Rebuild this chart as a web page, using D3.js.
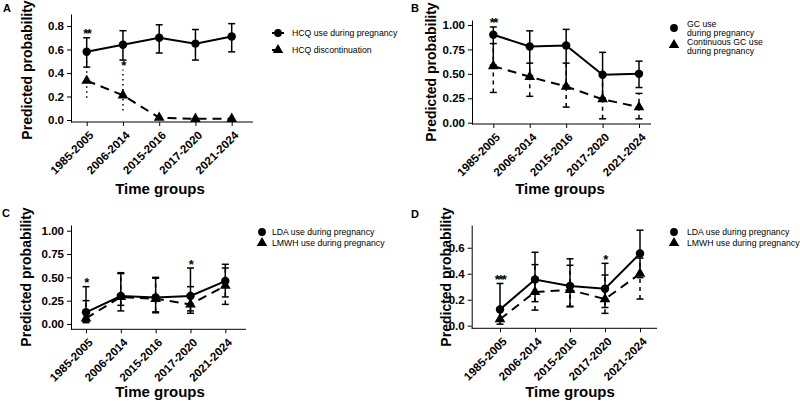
<!DOCTYPE html>
<html>
<head>
<meta charset="utf-8">
<script src="https://cdn.jsdelivr.net/npm/d3@7"></script>
<style>
  body { margin: 0; background: #fff; }
  svg { display: block; font-family: "Liberation Sans", Arial, sans-serif; }
</style>
</head>
<body>
<svg id="chart" width="800" height="402"></svg>
<script>
const timeGroups = ["1985-2005", "2006-2014", "2015-2016", "2017-2020", "2021-2024"];

// A: HCQ
const hcqUse = [0.58, 0.64, 0.70, 0.65, 0.71];
const hcqUseLow = [0.45, 0.51, 0.57, 0.51, 0.58];
const hcqUseHigh = [0.70, 0.76, 0.81, 0.77, 0.82];
const hcqDisc = [0.335, 0.21, 0.02, 0.01, 0.01];
const hcqDiscLow = [0.19, 0.08, 0.01, 0.0, 0.0];
const hcqDiscHigh = [0.50, 0.43, 0.04, 0.02, 0.02];
const sigA = ["**", "*", "", "", ""];
const sigSeriesA = [0, 1, 0, 0, 0];

// B: GC
const gcUse = [0.90, 0.78, 0.79, 0.49, 0.50];
const gcUseLow = [0.59, 0.48, 0.38, 0.25, 0.36];
const gcUseHigh = [0.98, 0.94, 0.955, 0.72, 0.63];
const gcCont = [0.58, 0.47, 0.37, 0.24, 0.16];
const gcContLow = [0.31, 0.27, 0.16, 0.04, 0.04];
const gcContHigh = [0.81, 0.61, 0.61, 0.48, 0.30];
const sigB = ["**", "", "", "", ""];
const sigSeriesB = [0, 0, 0, 0, 0];

// C: LDA / LMWH
const ldaC = [0.125, 0.30, 0.285, 0.30, 0.46];
const ldaCLow = [0.03, 0.14, 0.12, 0.115, 0.29];
const ldaCHigh = [0.40, 0.55, 0.50, 0.60, 0.64];
const lmwhC = [0.06, 0.29, 0.27, 0.21, 0.41];
const lmwhCLow = [0.014, 0.20, 0.13, 0.14, 0.21];
const lmwhCHigh = [0.25, 0.54, 0.49, 0.40, 0.60];
const sigC = ["*", "", "", "*", ""];
const sigSeriesC = [0, 0, 0, 0, 0];

// D: LDA / LMWH
const ldaD = [0.125, 0.355, 0.305, 0.285, 0.555];
const ldaDLow = [0.04, 0.185, 0.15, 0.14, 0.37];
const ldaDHigh = [0.325, 0.565, 0.515, 0.48, 0.735];
const lmwhD = [0.05, 0.26, 0.275, 0.205, 0.40];
const lmwhDLow = [0.012, 0.12, 0.145, 0.095, 0.205];
const lmwhDHigh = [0.13, 0.47, 0.465, 0.39, 0.52];
const sigD = ["***", "", "", "*", ""];
const sigSeriesD = [0, 0, 0, 0, 0];

const svg = d3.select("#chart");

const markerPath = (type, size) =>
  d3.symbol().type(type === "circle" ? d3.symbolCircle : d3.symbolTriangle).size(size)();

const drawPanel = (config) => {
  const {
    label, labelPos, yAxisX, xRange, xEnd, yDomain, yRange, yTicks, yFormat,
    yTitlePos, xTitlePos, series, sig, sigSeries, legend,
  } = config;

  const g = svg.append("g").attr("class", "panel-" + label);

  const xScale = d3.scalePoint().domain(timeGroups).range(xRange);
  const yScale = d3.scaleLinear().domain(yDomain).range(yRange);

  // y axis
  const yAxis = g.append("g")
    .attr("transform", `translate(${yAxisX},0)`)
    .call(d3.axisLeft(yScale).tickValues(yTicks).tickFormat(d3.format(yFormat)).tickSize(4).tickPadding(3).tickSizeOuter(0));
  yAxis.selectAll("text").attr("font-size", 11.5).attr("font-weight", "bold").attr("fill", "#000");
  yAxis.selectAll("line").attr("stroke", "#000");
  yAxis.select(".domain").attr("stroke", "#000");

  // x axis
  const xAxis = g.append("g")
    .attr("transform", `translate(0,${yRange[0]})`)
    .call(d3.axisBottom(xScale).tickSize(4).tickSizeOuter(0));
  xAxis.select(".domain").remove();
  xAxis.append("line").attr("x1", yAxisX).attr("x2", xEnd).attr("stroke", "#000");
  xAxis.selectAll("line").attr("stroke", "#000");
  xAxis.selectAll(".tick text")
    .attr("font-size", 11.5).attr("font-weight", "bold").attr("fill", "#000")
    .attr("text-anchor", "end")
    .attr("y", 0).attr("dy", 0)
    .attr("transform", "translate(7,14) rotate(-45)");

  // titles
  g.append("text")
    .attr("transform", `translate(${yTitlePos[0]},${yTitlePos[1]}) rotate(-90)`)
    .attr("text-anchor", "middle").attr("font-size", 14).attr("font-weight", "bold")
    .text("Predicted probability");
  g.append("text")
    .attr("x", xTitlePos[0]).attr("y", xTitlePos[1])
    .attr("text-anchor", "middle").attr("font-size", 15).attr("font-weight", "bold")
    .text("Time groups");
  g.append("text")
    .attr("x", labelPos[0]).attr("y", labelPos[1])
    .attr("font-size", 11).attr("font-weight", "bold")
    .text(label);

  // series
  series.forEach((s) => {
    const pts = timeGroups.map((t, i) => ({ t, v: s.est[i], lo: s.low[i], hi: s.high[i] }));
    const eb = g.append("g").attr("class", "errbar");
    pts.forEach((d) => {
      const x = xScale(d.t);
      eb.append("line")
        .attr("x1", x).attr("x2", x)
        .attr("y1", yScale(d.lo)).attr("y2", yScale(d.hi))
        .attr("stroke", "#000").attr("stroke-width", 1.5)
        .attr("stroke-dasharray", s.errDash);
      if (s.caps) {
        [d.lo, d.hi].forEach((v) => {
          eb.append("line")
            .attr("x1", x - 3.5).attr("x2", x + 3.5)
            .attr("y1", yScale(v)).attr("y2", yScale(v))
            .attr("stroke", "#000").attr("stroke-width", 1.5);
        });
      }
    });

    const line = d3.line().x((d) => xScale(d.t)).y((d) => yScale(d.v));
    g.append("path").datum(pts)
      .attr("fill", "none").attr("stroke", "#000").attr("stroke-width", 2)
      .attr("stroke-dasharray", s.lineDash)
      .attr("d", line);

    g.selectAll(null).data(pts).join("path")
      .attr("transform", (d) => `translate(${xScale(d.t)},${yScale(d.v)})`)
      .attr("d", markerPath(s.marker, s.marker === "circle" ? 56 : 50))
      .attr("fill", "#000");
  });

  // significance stars
  timeGroups.forEach((t, i) => {
    if (!sig[i]) return;
    const s = series[sigSeries[i]];
    g.append("text")
      .attr("x", xScale(t)).attr("y", yScale(s.high[i]) + 0.5)
      .attr("text-anchor", "middle").attr("font-size", 13).attr("font-weight", "bold")
      .attr("letter-spacing", -1.5)
      .text(sig[i]);
  });

  // legend
  const lg = g.append("g").attr("class", "legend");
  series.forEach((s, k) => {
    const row = legend.rows[k];
    if (legend.keyLine) {
      lg.append("line")
        .attr("x1", legend.x - 6).attr("x2", legend.x + (k === 0 ? 6 : 0))
        .attr("y1", row.y).attr("y2", row.y)
        .attr("stroke", "#000").attr("stroke-width", 2);
    }
    lg.append("path")
      .attr("transform", `translate(${legend.x},${row.y})`)
      .attr("d", markerPath(s.marker, 48))
      .attr("fill", "#000");
    row.text.forEach((txt, j) => {
      lg.append("text")
        .attr("x", legend.textX).attr("y", row.textY[j])
        .attr("dy", "0.35em").attr("font-size", 8.7)
        .text(txt);
    });
  });
};

drawPanel({
  label: "A", labelPos: [3, 12], yAxisX: 71,
  xRange: [86.7, 231.7], xEnd: 253,
  yDomain: [-0.017, 0.902], yRange: [122, 14],
  yTicks: [0, 0.2, 0.4, 0.6, 0.8], yFormat: ".1f",
  yTitlePos: [32, 70], xTitlePos: [160, 194],
  series: [
    { est: hcqUse, low: hcqUseLow, high: hcqUseHigh, marker: "circle", lineDash: null, errDash: null, caps: true },
    { est: hcqDisc, low: hcqDiscLow, high: hcqDiscHigh, marker: "triangle", lineDash: "9,6", errDash: "1.5,3.5", caps: false },
  ],
  sig: sigA, sigSeries: sigSeriesA,
  legend: { x: 278, textX: 292, keyLine: true, rows: [
    { y: 33, text: ["HCQ use during pregnancy"], textY: [33] },
    { y: 50, text: ["HCQ discontinuation"], textY: [50] },
  ] },
});

drawPanel({
  label: "B", labelPos: [411, 12], yAxisX: 472,
  xRange: [493.3, 639], xEnd: 651,
  yDomain: [-0.013, 1.051], yRange: [124, 20],
  yTicks: [0, 0.25, 0.5, 0.75, 1], yFormat: ".2f",
  yTitlePos: [436, 72], xTitlePos: [560, 194],
  series: [
    { est: gcUse, low: gcUseLow, high: gcUseHigh, marker: "circle", lineDash: null, errDash: null, caps: true },
    { est: gcCont, low: gcContLow, high: gcContHigh, marker: "triangle", lineDash: "9,6", errDash: "4,4", caps: true },
  ],
  sig: sigB, sigSeries: sigSeriesB,
  legend: { x: 674, textX: 687, keyLine: false, rows: [
    { y: 28, text: ["GC use", "during pregnancy"], textY: [24, 33] },
    { y: 45, text: ["Continuous GC use", "during pregnancy"], textY: [42, 51] },
  ] },
});

drawPanel({
  label: "C", labelPos: [2, 217], yAxisX: 71,
  xRange: [86, 225.3], xEnd: 246,
  yDomain: [-0.057, 1.061], yRange: [329.3, 225],
  yTicks: [0, 0.25, 0.5, 0.75, 1], yFormat: ".2f",
  yTitlePos: [31, 277], xTitlePos: [160, 397],
  series: [
    { est: ldaC, low: ldaCLow, high: ldaCHigh, marker: "circle", lineDash: null, errDash: null, caps: true },
    { est: lmwhC, low: lmwhCLow, high: lmwhCHigh, marker: "triangle", lineDash: "9,6", errDash: "4,4", caps: true },
  ],
  sig: sigC, sigSeries: sigSeriesC,
  legend: { x: 262, textX: 272, keyLine: false, rows: [
    { y: 232, text: ["LDA use during pregnancy"], textY: [232] },
    { y: 243, text: ["LMWH use during pregnancy"], textY: [243] },
  ] },
});

drawPanel({
  label: "D", labelPos: [411, 218], yAxisX: 471.7,
  xRange: [500, 640], xEnd: 657,
  yDomain: [-0.02, 0.775], yRange: [328.3, 225],
  yTicks: [0, 0.2, 0.4, 0.6], yFormat: ".1f",
  yTitlePos: [451, 277], xTitlePos: [570, 397],
  series: [
    { est: ldaD, low: ldaDLow, high: ldaDHigh, marker: "circle", lineDash: null, errDash: null, caps: true },
    { est: lmwhD, low: lmwhDLow, high: lmwhDHigh, marker: "triangle", lineDash: "9,6", errDash: "4,4", caps: true },
  ],
  sig: sigD, sigSeries: sigSeriesD,
  legend: { x: 674, textX: 687, keyLine: false, rows: [
    { y: 232, text: ["LDA use during pregnancy"], textY: [232] },
    { y: 243, text: ["LMWH use during pregnancy"], textY: [243] },
  ] },
});
</script>
</body>
</html>
